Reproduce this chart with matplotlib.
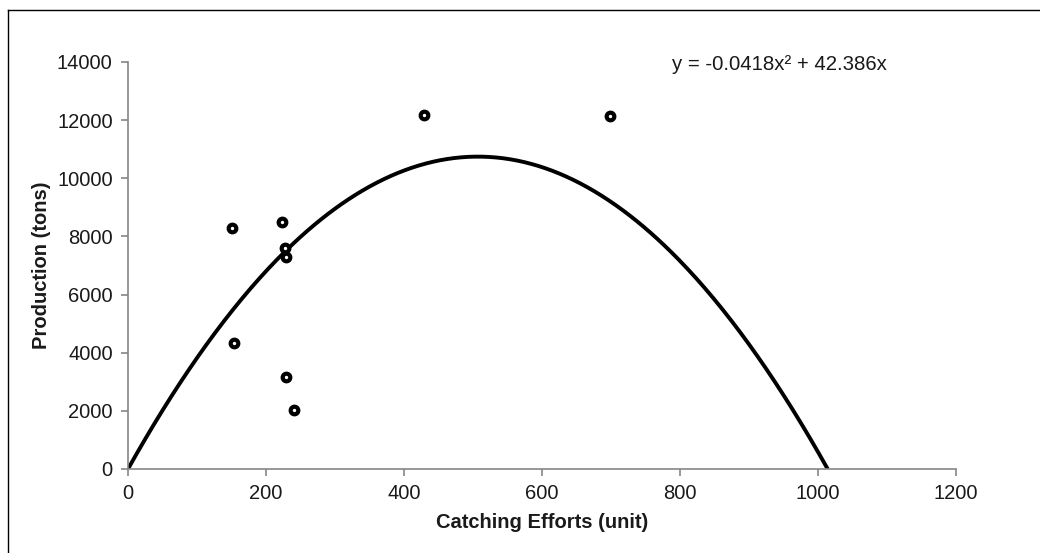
import matplotlib
matplotlib.use('Agg')
import matplotlib.pyplot as plt
import numpy as np
from matplotlib.lines import Line2D

plt.rcParams['font.family'] = ['Liberation Sans', 'DejaVu Sans']

# Observed data points
effort = [150, 154, 223, 228, 229, 229, 241, 429, 699]
production = [8300, 4330, 8490, 7600, 7300, 3150, 2030, 12190, 12150]

# Fitted trend: y = a*x^2 + b*x
a = -0.0418
b = 42.386
x_fit = np.linspace(0, -b / a, 400)
y_fit = a * x_fit ** 2 + b * x_fit

x_ticks = [0, 200, 400, 600, 800, 1000, 1200]
y_ticks = [0, 2000, 4000, 6000, 8000, 10000, 12000, 14000]

fig = plt.figure(figsize=(10.4, 5.53), dpi=100)
ax = fig.add_axes([128 / 1040, 1 - 469 / 553, 828 / 1040, 407 / 553])

# Trend line
ax.plot(x_fit, y_fit, color='black', linewidth=2.8, solid_capstyle='butt')

# Scatter points
ax.plot(effort, production, linestyle='none', marker='o', markersize=5.5,
        markerfacecolor='white', markeredgecolor='black', markeredgewidth=3)

ax.set_xlim(0, 1200)
ax.set_ylim(0, 14000)
ax.set_xticks(x_ticks)
ax.set_yticks(y_ticks)

for side in ['top', 'right']:
    ax.spines[side].set_visible(False)
for side in ['left', 'bottom']:
    ax.spines[side].set_color('#868686')
    ax.spines[side].set_linewidth(1.2)

ax.tick_params(axis='both', direction='out', length=5, width=1.2,
               color='#868686', labelsize=14.5, labelcolor='#1a1a1a', pad=6)

ax.set_xlabel('Catching Efforts (unit)', fontsize=14.5, fontweight='bold',
              color='#1a1a1a', labelpad=7)
ax.set_ylabel('Production (tons)', fontsize=14.5, fontweight='bold',
              color='#1a1a1a', labelpad=4)

# Equation of the trend line
ax.text(0.657, 0.993, 'y = -0.0418x² + 42.386x', transform=ax.transAxes,
        ha='left', va='center', fontsize=14.7, color='#1a1a1a')

# Outer chart border (partially cropped in the original)
fig.add_artist(Line2D([8 / 1040, 8 / 1040], [0, 1 - 10 / 553],
                      transform=fig.transFigure, color='black', linewidth=1))
fig.add_artist(Line2D([8 / 1040, 1], [1 - 10 / 553, 1 - 10 / 553],
                      transform=fig.transFigure, color='black', linewidth=1))

fig.savefig('out.png', dpi=100)
